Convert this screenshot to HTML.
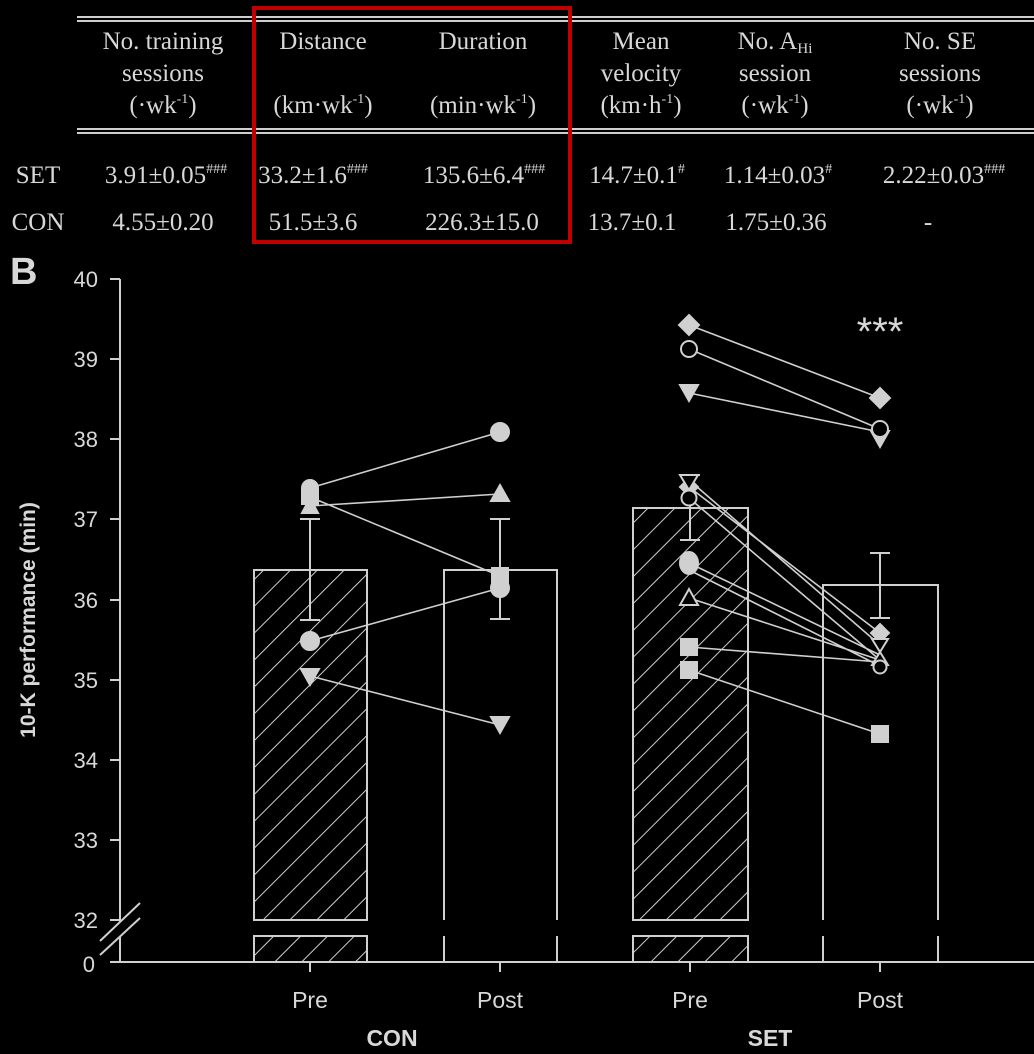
<!DOCTYPE html>
<html><head><meta charset="utf-8"><style>
html,body{margin:0;padding:0;background:#000;width:1034px;height:1054px;overflow:hidden}
svg{display:block}
.s{font-family:"Liberation Serif",serif;font-size:25px;fill:#d8d8d8}
.a{font-family:"Liberation Sans",sans-serif;fill:#d8d8d8}
</style></head><body>
<svg width="1034" height="1054" viewBox="0 0 1034 1054">
<defs>
<pattern id="h" width="19" height="19" patternUnits="userSpaceOnUse" patternTransform="rotate(45)">
<line x1="0" y1="0" x2="0" y2="19" stroke="#d0d0d0" stroke-width="2"/>
</pattern>
</defs>
<g stroke="#cfcfcf" stroke-width="2">
<line x1="77" y1="17" x2="1034" y2="17"/><line x1="77" y1="21" x2="1034" y2="21"/>
<line x1="77" y1="129" x2="1034" y2="129"/><line x1="77" y1="133" x2="1034" y2="133"/>
</g>
<rect x="254" y="8" width="316" height="234" fill="none" stroke="#c00000" stroke-width="4"/>
<g class="s" text-anchor="middle">
<text x="163" y="49">No. training</text><text x="163" y="81">sessions</text><text x="163" y="113">(·wk<tspan font-size="14" dy="-10">-1</tspan><tspan dy="10">)</tspan></text>
<text x="323" y="49">Distance</text><text x="323" y="113">(km·wk<tspan font-size="14" dy="-10">-1</tspan><tspan dy="10">)</tspan></text>
<text x="483" y="49">Duration</text><text x="483" y="113">(min·wk<tspan font-size="14" dy="-10">-1</tspan><tspan dy="10">)</tspan></text>
<text x="641" y="49">Mean</text><text x="641" y="81">velocity</text><text x="641" y="113">(km·h<tspan font-size="14" dy="-10">-1</tspan><tspan dy="10">)</tspan></text>
<text x="775" y="49">No. A<tspan font-size="15" dy="4">Hi</tspan></text><text x="775" y="81">session</text><text x="775" y="113">(·wk<tspan font-size="14" dy="-10">-1</tspan><tspan dy="10">)</tspan></text>
<text x="940" y="49">No. SE</text><text x="940" y="81">sessions</text><text x="940" y="113">(·wk<tspan font-size="14" dy="-10">-1</tspan><tspan dy="10">)</tspan></text>
<text x="38" y="183">SET</text><text x="38" y="230">CON</text>
<text x="166" y="183">3.91±0.05<tspan font-size="14" dy="-10">###</tspan></text>
<text x="313" y="183">33.2±1.6<tspan font-size="14" dy="-10">###</tspan></text>
<text x="484" y="183">135.6±6.4<tspan font-size="14" dy="-10">###</tspan></text>
<text x="637" y="183">14.7±0.1<tspan font-size="14" dy="-10">#</tspan></text>
<text x="778" y="183">1.14±0.03<tspan font-size="14" dy="-10">#</tspan></text>
<text x="944" y="183">2.22±0.03<tspan font-size="14" dy="-10">###</tspan></text>
<text x="163" y="230">4.55±0.20</text><text x="313" y="230">51.5±3.6</text><text x="482" y="230">226.3±15.0</text>
<text x="632" y="230">13.7±0.1</text><text x="776" y="230">1.75±0.36</text><text x="928" y="230">-</text>
</g>
<text class="a" x="10" y="284" font-size="38" font-weight="bold">B</text>
<text class="a" transform="translate(35,620) rotate(-90)" text-anchor="middle" font-size="21" font-weight="bold">10-K performance (min)</text>
<g class="a" font-size="22" text-anchor="end">
<text x="98" y="287">40</text><text x="98" y="367">39</text><text x="98" y="447">38</text><text x="98" y="527">37</text><text x="98" y="608">36</text><text x="98" y="688">35</text><text x="98" y="768">34</text><text x="98" y="848">33</text><text x="98" y="928">32</text><text x="95" y="972">0</text>
</g>
<g stroke="#d0d0d0" stroke-width="2" fill="none">
<line x1="120" y1="279" x2="120" y2="922"/><line x1="120" y1="936" x2="120" y2="962"/>
<line x1="110" y1="962" x2="1034" y2="962"/>
<line x1="110" y1="279" x2="120" y2="279"/><line x1="110" y1="359" x2="120" y2="359"/><line x1="110" y1="439" x2="120" y2="439"/><line x1="110" y1="519" x2="120" y2="519"/><line x1="110" y1="600" x2="120" y2="600"/><line x1="110" y1="680" x2="120" y2="680"/><line x1="110" y1="760" x2="120" y2="760"/><line x1="110" y1="840" x2="120" y2="840"/><line x1="110" y1="920" x2="120" y2="920"/>
<line x1="100" y1="941" x2="140" y2="903"/><line x1="100" y1="955" x2="140" y2="918"/>
<line x1="310" y1="962" x2="310" y2="972"/><line x1="500" y1="962" x2="500" y2="972"/><line x1="690" y1="962" x2="690" y2="972"/><line x1="880" y1="962" x2="880" y2="972"/>
<rect x="254" y="570" width="113" height="350" fill="url(#h)"/><rect x="254" y="936" width="113" height="26" fill="url(#h)"/>
<path d="M254 920V570H367V920M254 936V962M367 936V962"/>
<path d="M444 920V570H557V920M444 936V962M557 936V962"/>
<rect x="633" y="508" width="115" height="412" fill="url(#h)"/><rect x="633" y="936" width="115" height="26" fill="url(#h)"/>
<path d="M633 920V508H748V920M633 936V962M748 936V962"/>
<path d="M823 920V585H938V920M823 936V962M938 936V962"/>
<path d="M310 519V620M300 519H320M300 620H320"/>
<path d="M500 519V619M490 519H510M490 619H510"/>
<path d="M690 475V540M680 475H700M680 540H700"/>
<path d="M880 553V618M870 553H890M870 618H890"/>
<g stroke-width="1.6">
<path d="M310 488L500 432M310 506L500 494M310 497L500 576M310 641L500 588M310 676L500 725"/>
<path d="M689 325L880 398M689 349L880 429M689 393L880 432"/>
<path d="M689 480L880 645M689 487L880 633M689 498L880 660M689 563L880 655M689 570L880 666M689 598L880 660M689 647L880 662M689 670L880 734"/>
</g>
</g>
<g fill="#d0d0d0" stroke="#d0d0d0" stroke-width="2">
<circle cx="310" cy="488" r="8"/><path d="M302 513L310 498L318 513Z"/><rect x="302" y="490" width="16" height="14"/>
<circle cx="310" cy="641" r="9"/><path d="M301 669L319 669L310 685Z"/>
<circle cx="500" cy="432" r="9"/><path d="M491 501L500 485L509 501Z"/><rect x="492" y="568" width="16" height="16"/><circle cx="500" cy="588" r="9"/><path d="M491 717L509 717L500 733Z"/>
<path d="M689 315L699 325L689 335L679 325Z"/><path d="M680 385L698 385L689 401Z"/>
<path d="M880 388L890 398L880 408L870 398Z"/><path d="M871 431L889 431L880 447Z"/>
<path d="M689 478L698 487L689 496L680 487Z"/><ellipse cx="689" cy="563" rx="9" ry="11"/>
<rect x="681" y="639" width="16" height="16"/><rect x="681" y="662" width="16" height="16"/>
<path d="M880 624L889 633L880 642L871 633Z"/><rect x="872" y="726" width="16" height="16"/>
</g>
<g fill="#000" stroke="#d0d0d0" stroke-width="2">
<circle cx="689" cy="349" r="8"/><circle cx="880" cy="429" r="8"/>
<path d="M680 475L698 475L689 490Z"/><circle cx="689" cy="498" r="7.5"/>
<path d="M680 605L689 589L698 605Z"/>
<path d="M872 639L888 639L880 652Z"/><path d="M872 665L880 652L888 665Z"/><circle cx="880" cy="667" r="6.5"/>
</g>
<text class="a" x="880" y="345" font-size="40" text-anchor="middle">***</text>
<g class="a" font-size="23" text-anchor="middle">
<text x="310" y="1008">Pre</text><text x="500" y="1008">Post</text><text x="690" y="1008">Pre</text><text x="880" y="1008">Post</text>
<text x="392" y="1046" font-weight="bold">CON</text><text x="770" y="1046" font-weight="bold">SET</text>
</g>
</svg>
</body></html>
